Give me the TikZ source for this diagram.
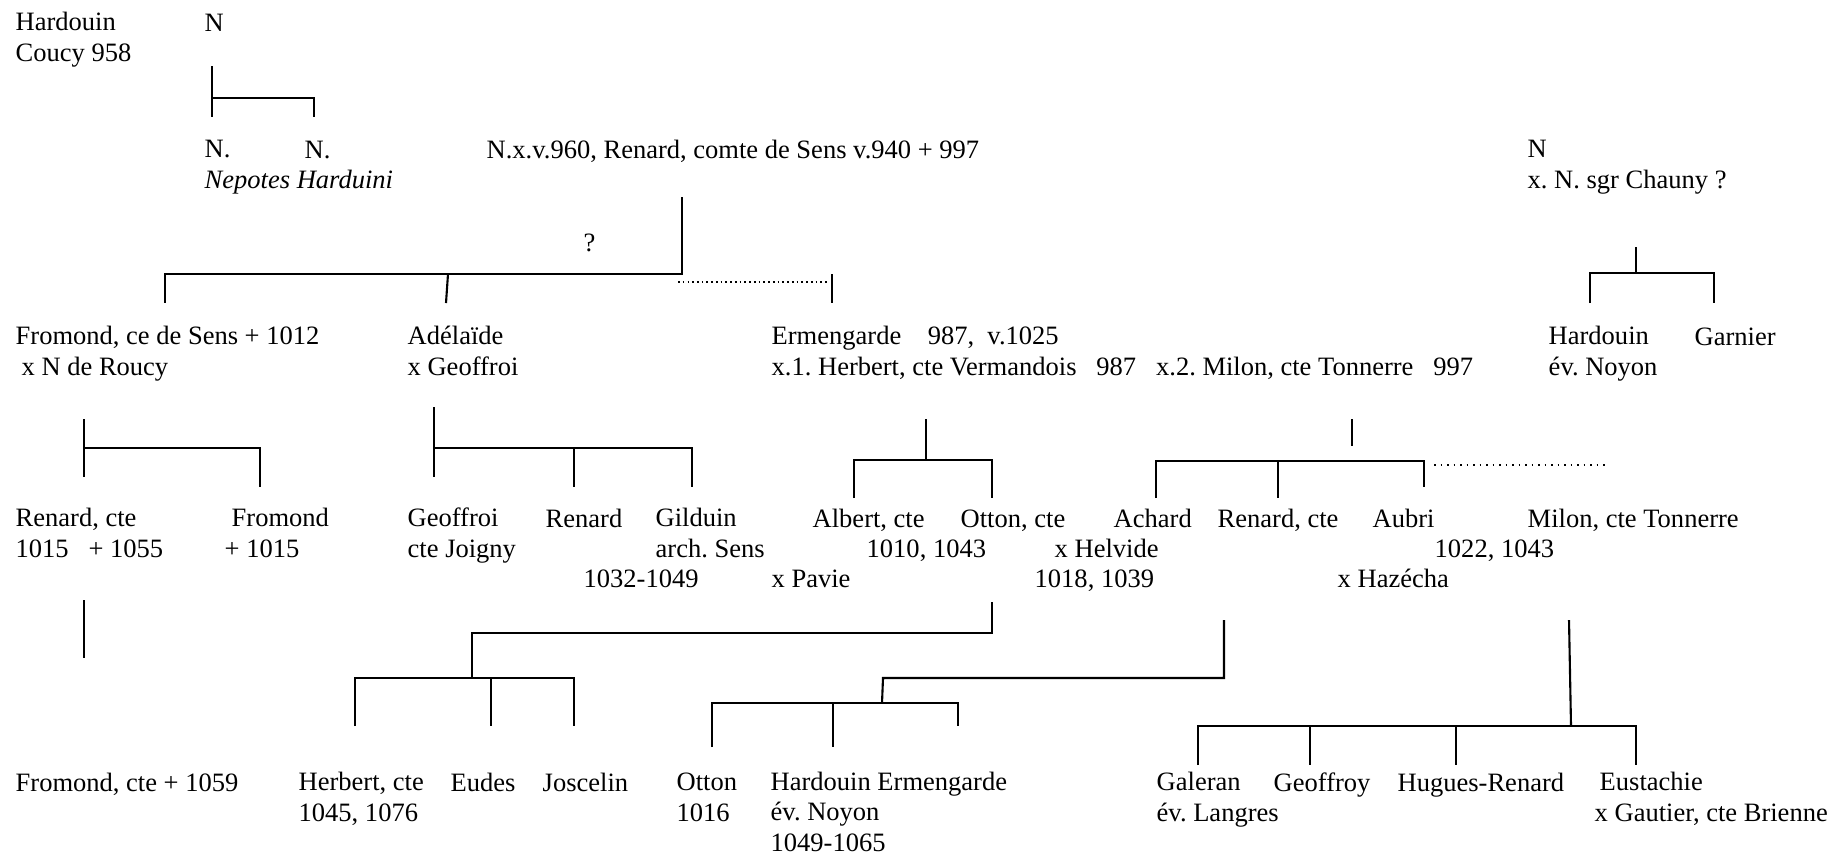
\documentclass[tikz,border=0pt]{standalone}
\usepackage{fontspec}
\setmainfont{Liberation Serif}
\frenchspacing
\tikzset{
    person/.style={
        anchor=base west,
        inner sep=0pt,
        align=left,
        font=\fontsize{7.54pt}{8.55pt}\selectfont
    },
    kin/.style={
        draw=black,
        line width=0.6pt
    },
    kinguess/.style={
        draw=black,
        line width=0.5pt,
        dash pattern=on 0.45pt off #1
    },
    kinguess/.default=0.9pt
}

\begin{document}
\begin{tikzpicture}[
    x=0.01cm, y=-0.01cm,
    every node/.style={person}
]
\useasboundingbox (0,0) rectangle (1834,856);

% multi-line nodes sit on the baseline of their last line

% === first generation ===
\node (hardouin) at (15,61) {Hardouin\\Coucy 958};
\node (nTop) at (204,31) {N};
\node (nepA) at (204,188) {N.\\\textit{Nepotes Harduini}};
\node (nepB) at (304,158) {N.};
\node (renard) at (486,158) {N.x.v.960, Renard, comte de Sens v.940 + 997};
\node (chauny) at (1527,188) {N\\x. N. sgr Chauny ?};
\node (doubt) at (583,251) {?};

% === second generation ===
\node (fromond) at (15,375) {Fromond, ce de Sens + 1012\\\hspace*{0.06cm}x N de Roucy};
\node (adelaide) at (407,375) {Adélaïde\\x Geoffroi};
\node (ermengarde) at (771,375)
    {Ermengarde~~~~987,~~v.1025\\x.1. Herbert, cte Vermandois~~~987~~~x.2. Milon, cte Tonnerre~~~997};
\node (hardouinN) at (1548,375) {Hardouin\\év. Noyon};
\node (garnier) at (1694,345) {Garnier};

% === third generation ===
\node (renardC) at (15,557) {Renard, cte\\1015~~~+ 1055};
\node (fromondC) at (224,557) {\hspace*{0.07cm}Fromond\\+ 1015};
\node (geoffroi) at (407,557) {Geoffroi\\cte Joigny};
\node (renardA) at (545,527) {Renard};
\node (gilduin) at (655,557) {Gilduin\\arch. Sens};
\node (gilduinD) at (583,587) {1032-1049};
\node (albert) at (812,527) {Albert, cte};
\node (datesA) at (866,557) {1010, 1043};
\node (pavie) at (771,587) {x Pavie};
\node (otton) at (960,527) {Otton, cte};
\node (helvide) at (1054,557) {x Helvide};
\node (datesB) at (1034,587) {1018, 1039};
\node (achard) at (1113,527) {Achard};
\node (renardM) at (1217,527) {Renard, cte};
\node (aubri) at (1372,527) {Aubri};
\node (datesC) at (1434,557) {1022, 1043};
\node (hazecha) at (1337,587) {x Hazécha};
\node (milon) at (1527,527) {Milon, cte Tonnerre};

% === fourth generation ===
\node (fromondD) at (15,791) {Fromond, cte + 1059};
\node (herbert) at (298,821) {Herbert, cte\\1045, 1076};
\node (eudes) at (450,791) {Eudes};
\node (joscelin) at (542,791) {Joscelin};
\node (ottonB) at (676,821) {Otton\\1016};
\node (hardouinE) at (770,851) {Hardouin Ermengarde\\év. Noyon\\1049-1065};
\node (galeran) at (1156,821) {Galeran\\év. Langres};
\node (geoffroy) at (1273,791) {Geoffroy};
\node (hugues) at (1397,791) {Hugues-Renard};
\node (eustachie) at (1594,821) {\hspace*{0.05cm}Eustachie\\x Gautier, cte Brienne};

% --- Hardouin's nephews
\coordinate (hS) at (212,66);
\coordinate (hL) at (212,117);
\coordinate (hB) at (212,98);
\coordinate (hR) at (314,117);
\draw[kin] (hS) -- (hL);
\draw[kin] (hB) -| (hR);

% --- Renard, comte de Sens
\coordinate (rS) at (682,197);
\coordinate (rB) at (682,274);
\coordinate (rL) at (165,303);
\coordinate (rA) at (448,274);
\coordinate (rAd) at (446,303);
\coordinate (rD) at (678,282);
\coordinate (rDe) at (829,282);
\coordinate (rE) at (832,274);
\coordinate (rEd) at (832,303);
\draw[kin] (rS) -- (rB) -| (rL);
\draw[kin] (rA) -- (rAd);
\draw[kinguess] (rD) -- (rDe);
\draw[kin] (rE) -- (rEd);

% --- N x. sgr Chauny
\coordinate (cS) at (1636,247);
\coordinate (cB) at (1636,273);
\coordinate (cL) at (1590,303);
\coordinate (cR) at (1714,273);
\coordinate (cRd) at (1714,303);
\draw[kin] (cS) -- (cB);
\draw[kin] (cL) |- (cR) -- (cRd);

% --- Fromond, ce de Sens
\coordinate (fS) at (84,419);
\coordinate (fL) at (84,477);
\coordinate (fB) at (84,448);
\coordinate (fR) at (260,487);
\coordinate (fD) at (84,600);
\coordinate (fDd) at (84,658);
\draw[kin] (fS) -- (fL);
\draw[kin] (fB) -| (fR);
\draw[kin] (fD) -- (fDd);

% --- Adelaide
\coordinate (aS) at (434,407);
\coordinate (aL) at (434,477);
\coordinate (aB) at (434,448);
\coordinate (aR) at (692,487);
\coordinate (aM) at (574,448);
\coordinate (aMd) at (574,487);
\draw[kin] (aS) -- (aL);
\draw[kin] (aB) -| (aR);
\draw[kin] (aM) -- (aMd);

% --- Ermengarde x Herbert
\coordinate (eS) at (926,419);
\coordinate (eB) at (926,460);
\coordinate (eL) at (854,498);
\coordinate (eR) at (992,460);
\coordinate (eRd) at (992,498);
\draw[kin] (eS) -- (eB);
\draw[kin] (eL) |- (eR) -- (eRd);

% --- Ermengarde x Milon
\coordinate (mS) at (1352,419);
\coordinate (mB) at (1352,446);
\coordinate (mL) at (1156,498);
\coordinate (mR) at (1424,461);
\coordinate (mRd) at (1424,487);
\coordinate (mM) at (1278,461);
\coordinate (mMd) at (1278,498);
\coordinate (mD) at (1434,465);
\coordinate (mDe) at (1609,465);
\draw[kin] (mS) -- (mB);
\draw[kin] (mL) |- (mR) -- (mRd);
\draw[kin] (mM) -- (mMd);
\draw[kinguess=1.4pt] (mD) -- (mDe);

% --- Otton, cte
\coordinate (oS) at (992,602);
\coordinate (oB) at (472,633);
\coordinate (oBd) at (472,678);
\coordinate (oL) at (355,726);
\coordinate (oR) at (574,678);
\coordinate (oRd) at (574,726);
\coordinate (oM) at (491,678);
\coordinate (oMd) at (491,726);
\draw[kin] (oS) |- (oB) -- (oBd);
\draw[kin] (oL) |- (oR) -- (oRd);
\draw[kin] (oM) -- (oMd);

% --- Renard, cte
\coordinate (nS) at (1224,620);
\coordinate (nB) at (883,678);
\coordinate (nBd) at (882,703);
\coordinate (nL) at (712,747);
\coordinate (nR) at (958,703);
\coordinate (nRd) at (958,726);
\coordinate (nM) at (833,703);
\coordinate (nMd) at (833,747);
\draw[kin] (nS) |- (nB) -- (nBd);
\draw[kin] (nL) |- (nR) -- (nRd);
\draw[kin] (nM) -- (nMd);

% --- Milon, cte Tonnerre
\coordinate (tS) at (1569,620);
\coordinate (tB) at (1571,726);
\coordinate (tL) at (1198,765);
\coordinate (tR) at (1636,726);
\coordinate (tRd) at (1636,765);
\coordinate (tM) at (1310,726);
\coordinate (tMd) at (1310,765);
\coordinate (tN) at (1456,726);
\coordinate (tNd) at (1456,765);
\draw[kin] (tS) -- (tB);
\draw[kin] (tL) |- (tR) -- (tRd);
\draw[kin] (tM) -- (tMd);
\draw[kin] (tN) -- (tNd);

\end{tikzpicture}
\end{document}
